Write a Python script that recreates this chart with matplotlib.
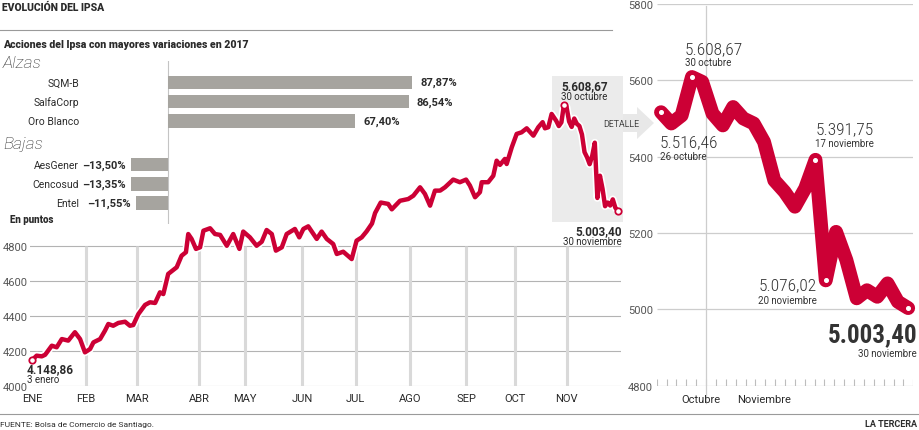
import matplotlib
matplotlib.use("Agg")
import matplotlib.pyplot as plt
import matplotlib.patheffects as pe
import matplotlib.transforms as mtransforms
from matplotlib.patches import Rectangle, Polygon
from matplotlib.lines import Line2D
import numpy as np

plt.rcParams['font.family'] = ['Roboto', 'DejaVu Sans']

# ---------------------------------------------------------------- data
bar_names_up = ['SQM-B', 'SalfaCorp', 'Oro Blanco']
bar_values_up = [87.87, 86.54, 67.40]
bar_names_down = ['AesGener', 'Cencosud', 'Entel']
bar_values_down = [-13.50, -13.35, -11.55]

month_labels = ['ENE', 'FEB', 'MAR', 'ABR', 'MAY', 'JUN', 'JUL', 'AGO', 'SEP', 'OCT', 'NOV']
month_start_day = [0, 21, 41, 65, 83, 105, 126, 147, 169, 188, 208]   # trading-day index
main_y_ticks = [4000, 4200, 4400, 4600, 4800]

# IPSA, 3 Jan - 25 Oct 2017 (trading-day index, points)
ipsa_days = [0, 1.8, 3.8, 5.1, 7.7, 9.6, 11.6, 14.1, 16.7, 18.7, 20.6, 22.6, 23.9, 26.5,
             28.4, 29.7, 31.6, 33.6, 36.2, 38.1, 39.4, 41.4, 44.0, 45.9, 47.9, 49.8, 51.1,
             53.0, 56.3, 58.2, 59.9, 60.8, 62.1, 63.8, 65.4, 66.7, 69.3, 71.2, 73.2, 75.8,
             78.3, 80.7, 82.2, 84.8, 87.4, 89.4, 91.3, 93.3, 94.9, 97.2, 99.1, 102.3, 104.0,
             105.6, 107.5, 109.5, 110.8, 112.7, 114.7, 117.2, 118.6, 121.1, 124.4, 126.3,
             128.3, 130.2, 132.3, 133.5, 135.7, 138.6, 140.0, 143.2, 146.4, 148.4, 151.0,
             152.9, 154.9, 156.8, 158.8, 160.7, 163.9, 166.5, 168.9, 170.4, 172.4, 174.3,
             175.0, 177.5, 179.5, 180.8, 182.1, 184.0, 184.7, 186.7, 188.6, 190.5, 192.5,
             195.1, 197.0, 198.7, 199.6, 200.9, 202.2]
ipsa_values = [4148.86, 4175, 4171, 4180, 4232, 4223, 4270, 4261, 4309, 4270, 4194, 4213,
               4251, 4270, 4318, 4356, 4346, 4362, 4369, 4346, 4350, 4413, 4465, 4480, 4476,
               4537, 4527, 4642, 4680, 4746, 4766, 4870, 4842, 4785, 4794, 4889, 4903, 4870,
               4865, 4803, 4870, 4785, 4884, 4851, 4803, 4826, 4893, 4870, 4775, 4794, 4870,
               4899, 4851, 4899, 4914, 4870, 4842, 4884, 4842, 4813, 4756, 4769, 4727, 4832,
               4851, 4885, 4930, 4990, 5050, 5042, 5011, 5060, 5070, 5089, 5137, 5099, 5032,
               5118, 5118, 5137, 5181, 5166, 5181, 5147, 5080, 5109, 5166, 5166, 5203, 5289,
               5265, 5299, 5270, 5366, 5442, 5451, 5474, 5432, 5480, 5509, 5474, 5480, 5556]

# detail: 26 Oct - 30 Nov 2017, one value per trading day
detail_values = [5516.46, 5487, 5508, 5608.67, 5596, 5513, 5482, 5530, 5500, 5487, 5439,
                 5338, 5308, 5269, 5317, 5391.75, 5076.02, 5203, 5129, 5029, 5050, 5033,
                 5068, 5020, 5003.40]
detail_y_ticks = [4800, 5000, 5200, 5400, 5600, 5800]
detail_start_day = 204

# ---------------------------------------------------------------- style
W, H, DPI = 920, 431, 100
RED = '#cc0035'
DARK = '#2b2b2b'
GRAYTXT = '#555555'
BARC = '#a6a49f'
NUMFONT = ['Liberation Sans Narrow', 'Roboto Condensed', 'DejaVu Sans']

fig = plt.figure(figsize=(W / DPI, H / DPI), dpi=DPI)
fig.patch.set_facecolor('white')


def add_axes_px(l, t, r, b):
    ax = fig.add_axes([l / W, 1 - b / H, (r - l) / W, (b - t) / H])
    ax.set_facecolor('none')
    for s in ax.spines.values():
        s.set_visible(False)
    return ax


def ftext(x, y, s, **kw):
    kw.setdefault('va', 'center')
    kw.setdefault('color', DARK)
    return fig.text(x / W, 1 - y / H, s, **kw)


def fmt_es(v):
    s = f'{abs(v):,.2f}'.replace(',', 'X').replace('.', ',').replace('X', '.')
    return s


# ---------------------------------------------------------------- header / footer
ftext(2, 8, 'EVOLUCIÓN DEL IPSA', fontsize=7.5, fontweight='black')
fig.add_artist(Line2D([0, 612 / W], [1 - 31 / H] * 2, color='#9a9a9a', lw=0.8))
ftext(3, 45, 'Acciones del Ipsa con mayores variaciones en 2017', fontsize=7.6, fontweight='black')
ftext(3, 63, 'Alzas', fontsize=12.5, style='italic', fontweight='light')
ftext(3, 144, 'Bajas', fontsize=12.5, style='italic', fontweight='light')
ftext(10, 220, 'En puntos', fontsize=7, fontweight='black')
fig.add_artist(Line2D([0, 1], [1 - 414.5 / H] * 2, color='#9a9a9a', lw=0.8))
ftext(0, 425, 'FUENTE: Bolsa de Comercio de Santiago.', fontsize=6)
ftext(917, 425, 'LA TERCERA', fontsize=6.5, fontweight='bold', ha='right')

# ---------------------------------------------------------------- main chart
axm = add_axes_px(30, 63.5, 620.5, 387.3)
axm.set_xlim(-0.78, 229.0)
axm.set_ylim(4000, 5850)
axm.set_yticks(main_y_ticks)
axm.set_yticklabels([str(v) for v in main_y_ticks])
axm.tick_params(axis='y', length=0, pad=1.5, labelsize=8, labelcolor=GRAYTXT)
axm.set_xticks(month_start_day)
axm.set_xticklabels(month_labels)
axm.tick_params(axis='x', length=0, pad=5, labelsize=8, labelcolor=DARK)
axm.yaxis.grid(True, color='#b3b3b3', lw=0.8)
axm.set_axisbelow(True)
axm.vlines(month_start_day[1:], main_y_ticks[0], main_y_ticks[-1], color='#d9d9d9', lw=2.2, zorder=0.8)

axm.add_patch(Rectangle((202.2, 4939), 27.8, 836, facecolor='#ebebeb', edgecolor='none',
                        zorder=0.3, clip_on=False))

full_days = ipsa_days + [detail_start_day + i for i in range(len(detail_values))]
full_vals = ipsa_values + detail_values
axm.plot(full_days, full_vals, color=RED, lw=3.2, solid_joinstyle='round', solid_capstyle='round',
         zorder=3, clip_on=False,
         path_effects=[pe.Stroke(linewidth=5.6, foreground='white'), pe.Normal()])

mk_idx = [0, len(ipsa_days) + 3, len(full_days) - 1]
axm.plot([full_days[i] for i in mk_idx], [full_vals[i] for i in mk_idx], 'o', ms=4.6,
         mfc='white', mec=RED, mew=1.3, zorder=4, clip_on=False)

def ann(ax, txt, xy, off, **kw):
    kw.setdefault('va', 'center')
    kw.setdefault('color', DARK)
    ax.annotate(txt, xy=xy, xytext=off, textcoords='offset pixels', annotation_clip=False, **kw)

p0 = (full_days[0], full_vals[0])
ann(axm, fmt_es(full_vals[0]), p0, (-5, -8.5), ha='left', fontsize=8.5, fontweight='bold')
ann(axm, '3 enero', p0, (-5, -18.5), ha='left', fontsize=7)
pmax = (full_days[mk_idx[1]], full_vals[mk_idx[1]])
ann(axm, fmt_es(pmax[1]), pmax, (-3, 19), ha='left', fontsize=8.5, fontweight='bold')
ann(axm, '30 octubre', pmax, (-3, 8.5), ha='left', fontsize=7)
pend = (full_days[-1], full_vals[-1])
ann(axm, fmt_es(pend[1]), pend, (4, -20), ha='right', fontsize=8.5, fontweight='bold')
ann(axm, '30 noviembre', pend, (4, -30), ha='right', fontsize=7)

# DETALLE arrow
fig.add_artist(Polygon([(623 / W, 1 - 115 / H), (637 / W, 1 - 115 / H), (637 / W, 1 - 108 / H),
                        (654 / W, 1 - 124 / H), (637 / W, 1 - 140 / H), (637 / W, 1 - 133 / H),
                        (623 / W, 1 - 133 / H)], closed=True, facecolor='#e8e8e8',
                       edgecolor='none', transform=fig.transFigure, zorder=0.2))
ftext(603, 124.5, 'DETALLE', fontsize=6.3, color='#444444')

# ---------------------------------------------------------------- bars
BAR_ZERO_PX, BAR_PX_PER_PCT = 168.3, 2.777
axb = add_axes_px(100, 61.7, 450, 225)
axb.set_xlim((100 - BAR_ZERO_PX) / BAR_PX_PER_PCT, (450 - BAR_ZERO_PX) / BAR_PX_PER_PCT)
up_rows = np.arange(len(bar_values_up))
down_rows = np.arange(len(bar_values_down)) + 4.28
axb.set_ylim(7.36, -1.12)
axb.set_xticks([])
axb.set_yticks([])
axb.axvline(0, color='#c4c4c4', lw=0.8, zorder=0)
axb.barh(up_rows, bar_values_up, height=0.7, color=BARC, zorder=2)
axb.barh(down_rows, bar_values_down, height=0.7, color=BARC, zorder=2)
trans = mtransforms.blended_transform_factory(fig.transFigure, axb.transData)
for rows, names, vals in ((up_rows, bar_names_up, bar_values_up),
                          (down_rows, bar_names_down, bar_values_down)):
    for r, n, v in zip(rows, names, vals):
        axb.text(79 / W, r, n, transform=trans, ha='right', va='center', fontsize=7.5, color=DARK)
        lab = fmt_es(v) + '%'
        if v < 0:
            lab = '–' + lab
        ann(axb, lab, (v, r), (8, 0) if v > 0 else (-5, 0), ha='left' if v > 0 else 'right',
            fontsize=8, fontweight='bold')

# ---------------------------------------------------------------- detail
axd = add_axes_px(656.7, 5, 913.3, 386.7)
DX0, DX1 = -0.42, 24.5
axd.set_xlim(DX0, DX1)
axd.set_ylim(detail_y_ticks[0], detail_y_ticks[-1])
axd.set_yticks(detail_y_ticks)
axd.set_yticklabels([str(v) for v in detail_y_ticks])
axd.tick_params(axis='y', length=0, pad=2.5, labelsize=8, labelcolor=GRAYTXT)
axd.set_xticks([])
axd.hlines(detail_y_ticks, DX0, DX1, color='#cdcdcd', lw=0.9, zorder=0.5)
axd.vlines(np.linspace(DX0, DX1, 27), detail_y_ticks[0], detail_y_ticks[0] + 18,
           color='#bdbdbd', lw=0.8, zorder=0.5)
axd.axvline(4.4, ymin=-0.045, ymax=0.995, color='#cdcdcd', lw=0.9, clip_on=False, zorder=0.5)
ftext(681.7, 400, 'Octubre', fontsize=8)
ftext(737.5, 400, 'Noviembre', fontsize=8)

dx = list(range(len(detail_values)))
axd.plot(dx, detail_values, color=RED, lw=10, solid_joinstyle='round', solid_capstyle='round',
         zorder=3, clip_on=False)
d_mk = [0, 3, 15, 16, len(detail_values) - 1]
axd.plot([dx[i] for i in d_mk], [detail_values[i] for i in d_mk], 'o', ms=2.6, color='white',
         zorder=4, clip_on=False)

d_labels = [
    (0, '26 octubre', (-1, -29.8), (-1, -43.8), 'left', 12.5, 'light'),
    (3, '30 octubre', (-7, 28), (-7, 15), 'left', 12.5, 'light'),
    (15, '17 noviembre', (0, 30.8), (0, 16.8), 'left', 12.5, 'light'),
    (16, '20 noviembre', (-8.6, -4.7), (-8.6, -19.7), 'right', 12.5, 'light'),
    (len(detail_values) - 1, '30 noviembre', (9, -26), (9, -45), 'right', 18, 'bold'),
]
for i, date, off1, off2, ha, fs, fw in d_labels:
    xy = (dx[i], detail_values[i])
    ann(axd, fmt_es(detail_values[i]), xy, off1, ha=ha, fontsize=fs, fontweight=fw,
        family=NUMFONT, fontstretch='condensed', color='#333333')
    ann(axd, date, xy, off2, ha=ha, fontsize=7, color='#333333')

fig.savefig('out.png', dpi=DPI, facecolor='white')
